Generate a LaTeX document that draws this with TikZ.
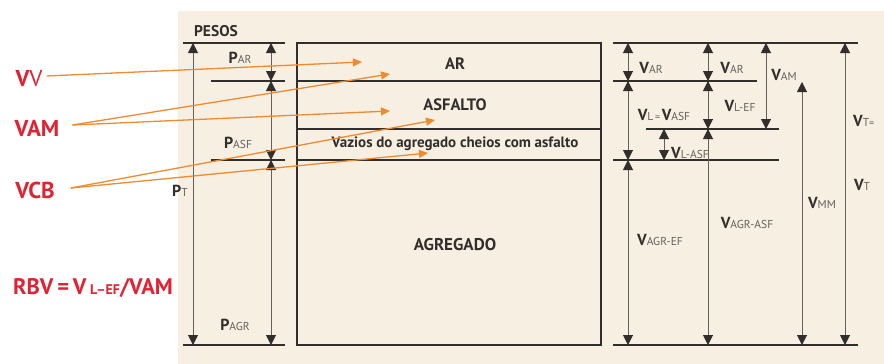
\documentclass[tikz,border=0pt]{standalone}
\usepackage{fontspec}
\setmainfont{PT Sans}
\usetikzlibrary{arrows.meta}
\definecolor{fundo}{RGB}{246,239,226}
\definecolor{tinta}{RGB}{50,46,44}
\definecolor{cinza}{RGB}{100,96,94}
\definecolor{vermelho}{RGB}{224,35,52}
\definecolor{laranja}{RGB}{238,138,48}
% letra grande em negrito + indice menor em cinza
\newcommand{\grand}[2]{{\fontsize{16}{16}\selectfont\bfseries #1}{\fontsize{11.5}{11.5}\selectfont\color{cinza}#2}}

\begin{document}
\begin{tikzpicture}[x=1pt,y=-1pt,
    linha/.style={draw=tinta,line width=1.8pt},
    cota/.style={draw=cinza,line width=1pt,
      {Triangle[width=10pt,length=10pt,color=tinta]}-{Triangle[width=10pt,length=10pt,color=tinta]}},
    seta/.style={draw=laranja,line width=1.3pt,-{Triangle[width=8pt,length=9pt]}},
    rot/.style={text=tinta,inner sep=0pt},
    camada/.style={text=tinta,inner sep=0pt,font=\fontsize{16.5}{16.5}\selectfont\bfseries},
    verm/.style={text=vermelho,inner sep=0pt,font=\fontsize{23}{23}\selectfont\bfseries}]
  \useasboundingbox (0,0) rectangle (884,364);
  \fill[fundo] (178,11) rectangle (884,364);

  % pesos
  \node[rot,font=\fontsize{15.5}{15.5}\selectfont\bfseries] (pesos) at (216,31) {PESOS};
  \draw[linha] (183,43) -- (285,43);
  \draw[linha] (211,81) -- (285,81);
  \draw[linha] (211,160) -- (285,160);
  \draw[linha] (183,345) -- (285,345);
  \draw[cota] (193,43) -- (193,345);
  \draw[cota] (271,43) -- (271,81);
  \draw[cota] (271,81) -- (271,160);
  \draw[cota] (271,160) -- (271,345);
  \node[rot] (par) at (240,58) {\grand{P}{AR}};
  \node[rot] (pasf) at (238,143) {\grand{P}{ASF}};
  \node[rot] (pt) at (180,191) {\grand{P}{T}};
  \node[rot] (pagr) at (235,325) {\grand{P}{AGR}};

  % caixa central
  \draw[linha] (297,43) rectangle (601,345);
  \draw[linha] (297,81) -- (601,81);
  \draw[linha] (297,129) -- (601,129);
  \draw[linha] (297,160) -- (601,160);
  \node[camada] (ar) at (455,64) {AR};
  \node[camada] (asfalto) at (455,105) {ASFALTO};
  \node[camada,font=\fontsize{15}{15}\selectfont\bfseries] (vazios) at (455,144) {Vazios do agregado cheios com asfalto};
  \node[camada,font=\fontsize{17}{17}\selectfont\bfseries] (agregado) at (455,245) {AGREGADO};

  % volumes
  \draw[linha] (613,43) -- (858,43);
  \draw[linha] (613,81) -- (757,81);
  \draw[linha] (646,129) -- (779,129);
  \draw[linha] (613,160) -- (779,160);
  \draw[linha] (613,345) -- (858,345);
  \draw[cota] (628,43) -- (628,81);
  \draw[cota] (628,81) -- (628,160);
  \draw[cota] (628,160) -- (628,345);
  \draw[cota] (708,43) -- (708,81);
  \draw[cota] (708,81) -- (708,129);
  \draw[cota] (708,129) -- (708,345);
  \draw[cota] (664,129) -- (664,160);
  \draw[cota] (766,43) -- (766,129);
  \draw[cota] (802,82) -- (802,345);
  \draw[cota] (845,43) -- (845,345);
  \node[rot] (var) at (651,68) {\grand{V}{AR}};
  \node[rot] (vardois) at (732,68) {\grand{V}{AR}};
  \node[rot] (vam) at (784,75) {\grand{V}{AM}};
  \node[rot] (vl) at (664,115) {\grand{V}{L}\,{\color{cinza}=}\,\grand{V}{ASF}};
  \node[rot] (vlef) at (740,106) {\grand{V}{L-EF}};
  \node[rot] (vlasf) at (690,153) {\grand{V}{L-ASF}};
  \node[rot,anchor=west] (vtigual) at (853,121) {\grand{V}{T}{\color{cinza}=}};
  \node[rot] (vt) at (862,185) {\grand{V}{T}};
  \node[rot] (vmm) at (822,203) {\grand{V}{MM}};
  \node[rot] (vagrasf) at (747,223) {\grand{V}{AGR-ASF}};
  \node[rot] (vagref) at (660,240) {\grand{V}{AGR-EF}};

  % rotulos vermelhos
  \node[verm] (vv) at (29,79) {V\mdseries V};
  \node[verm] (vamr) at (37,128) {VAM};
  \node[verm] (vcb) at (35,190) {VCB};
  \node[verm,font=\fontsize{22.5}{22.5}\selectfont\bfseries] (rbv) at (93,288) {RBV\,=\,V\,{\fontsize{14}{14}\selectfont L--EF}/VAM};

  \coordinate (alvovv) at (362,62);
  \coordinate (alvovam) at (390,74);
  \coordinate (alvovamdois) at (390,111);
  \coordinate (alvovcb) at (435,120);
  \coordinate (alvovcbdois) at (428,153);
  \draw[seta] ([xshift=4pt,yshift=3pt]vv.east) -- (alvovv);
  \draw[seta] ([xshift=13pt,yshift=3pt]vamr.east) -- (alvovam);
  \draw[seta] ([xshift=13pt,yshift=3pt]vamr.east) -- (alvovamdois);
  \draw[seta] ([xshift=16pt,yshift=2pt]vcb.east) -- (alvovcb);
  \draw[seta] ([xshift=16pt,yshift=2pt]vcb.east) -- (alvovcbdois);
\end{tikzpicture}
\end{document}
